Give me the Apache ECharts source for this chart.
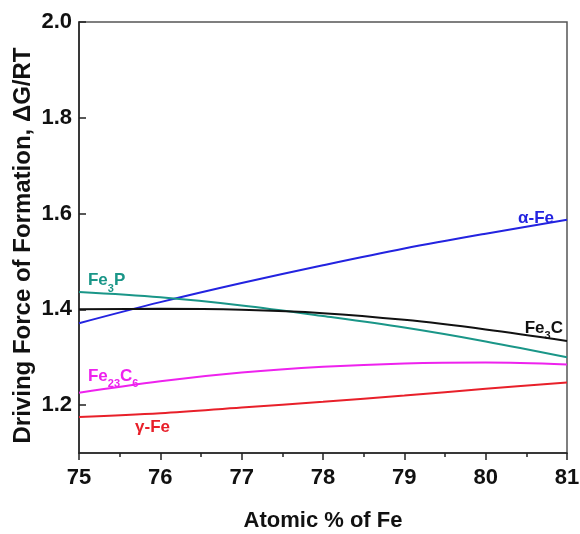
<!DOCTYPE html>
<html>
<head>
<meta charset="utf-8">
<script src="https://cdn.jsdelivr.net/npm/echarts@6/dist/echarts.min.js"></script>
<style>html,body{margin:0;padding:0;background:#fff}#c{width:580px;height:534px}</style>
</head>
<body>
<div id="c"></div>
<script>
var xValues = [75, 76, 77, 78, 79, 80, 81];
var alphaFe = [1.371, 1.415, 1.455, 1.492, 1.527, 1.558, 1.587];
var fe3P    = [1.436, 1.425, 1.408, 1.386, 1.362, 1.333, 1.300];
var fe3C    = [1.400, 1.401, 1.399, 1.392, 1.378, 1.358, 1.334];
var fe23C6  = [1.226, 1.250, 1.268, 1.280, 1.287, 1.289, 1.285];
var gammaFe = [1.175, 1.183, 1.195, 1.207, 1.220, 1.234, 1.247];
var yTicks = [1.2, 1.4, 1.6, 1.8, 2.0];

function pairs(ys){ return xValues.map(function(x,i){ return [x, ys[i]]; }); }
var FONT = '"Liberation Sans", Arial, sans-serif';

function richFor(color){
  return {
    m: {fontFamily: FONT, fontWeight: 'bold', fontSize: 17, color: color, padding: [0,0,5,0], verticalAlign: 'bottom'},
    s: {fontFamily: FONT, fontWeight: 'bold', fontSize: 11, color: color, verticalAlign: 'bottom'}
  };
}
function labelPoint(coord, text, color, pos){
  return {
    symbol: 'circle', symbolSize: 0,
    data: [{coord: coord}],
    label: {show: true, position: pos, distance: 0, formatter: text, rich: richFor(color)},
    silent: true
  };
}
function line(name, ys, color, lbl){
  return {
    name: name, type: 'line', data: pairs(ys), smooth: 0.35, showSymbol: false,
    lineStyle: {color: color, width: 2}, itemStyle: {color: color},
    markPoint: lbl, z: 3
  };
}

var chart = echarts.init(document.getElementById('c'), null, {renderer: 'canvas'});
chart.setOption({
  animation: false,
  backgroundColor: '#fff',
  grid: {left: 79, right: 13, top: 22, bottom: 81, outerBoundsMode: 'none', containLabel: false,
    show: true, borderColor: '#555', borderWidth: 1.5, backgroundColor: 'transparent'},
  xAxis: {
    type: 'value', min: 75, max: 81, interval: 1,
    name: 'Atomic % of Fe', nameLocation: 'middle', nameGap: 57, nameMoveOverlap: false,
    nameTextStyle: {fontFamily: FONT, fontWeight: 'bold', fontSize: 22, color: '#111'},
    axisLine: {show: true, lineStyle: {color: '#222', width: 1.5}},
    axisTick: {show: true, inside: false, length: 7, lineStyle: {color: '#222', width: 1.5}},
    minorTick: {show: true, splitNumber: 2, length: 4, lineStyle: {color: '#222', width: 1.5}},
    axisLabel: {fontFamily: FONT, fontWeight: 'bold', fontSize: 22, color: '#111', margin: 14},
    splitLine: {show: false}
  },
  yAxis: {
    type: 'value', min: 1.1, max: 2.0,
    name: 'Driving Force of Formation, ΔG/RT', nameLocation: 'middle', nameGap: 44, nameMoveOverlap: false,
    nameTextStyle: {fontFamily: FONT, fontWeight: 'bold', fontSize: 24, color: '#111', padding: [0, 16, 0, 0]},
    axisLine: {show: true, lineStyle: {color: '#222', width: 1.5}},
    axisTick: {show: true, inside: true, length: 7, customValues: yTicks, lineStyle: {color: '#222', width: 1.5}},
    axisLabel: {fontFamily: FONT, fontWeight: 'bold', fontSize: 22, color: '#111', margin: 7, customValues: yTicks,
      formatter: function(v){ return v.toFixed(1); }},
    splitLine: {show: false}
  },
  series: [
    line('α-Fe', alphaFe, '#2323e0', labelPoint([80.84, 1.585], '{m|α-Fe}', '#2323e0', 'left')),
    line('Fe3P', fe3P, '#1a9688', labelPoint([75.11, 1.455], '{m|Fe}{s|3}{m|P}', '#1a9688', 'right')),
    line('Fe3C', fe3C, '#111111', labelPoint([80.95, 1.355], '{m|Fe}{s|3}{m|C}', '#111111', 'left')),
    line('Fe23C6', fe23C6, '#ee22ee', labelPoint([75.11, 1.255], '{m|Fe}{s|23}{m|C}{s|6}', '#ee22ee', 'right')),
    line('γ-Fe', gammaFe, '#e8202a', labelPoint([75.69, 1.149], '{m|γ-Fe}', '#e8202a', 'right'))
  ]
});
</script>
</body>
</html>
